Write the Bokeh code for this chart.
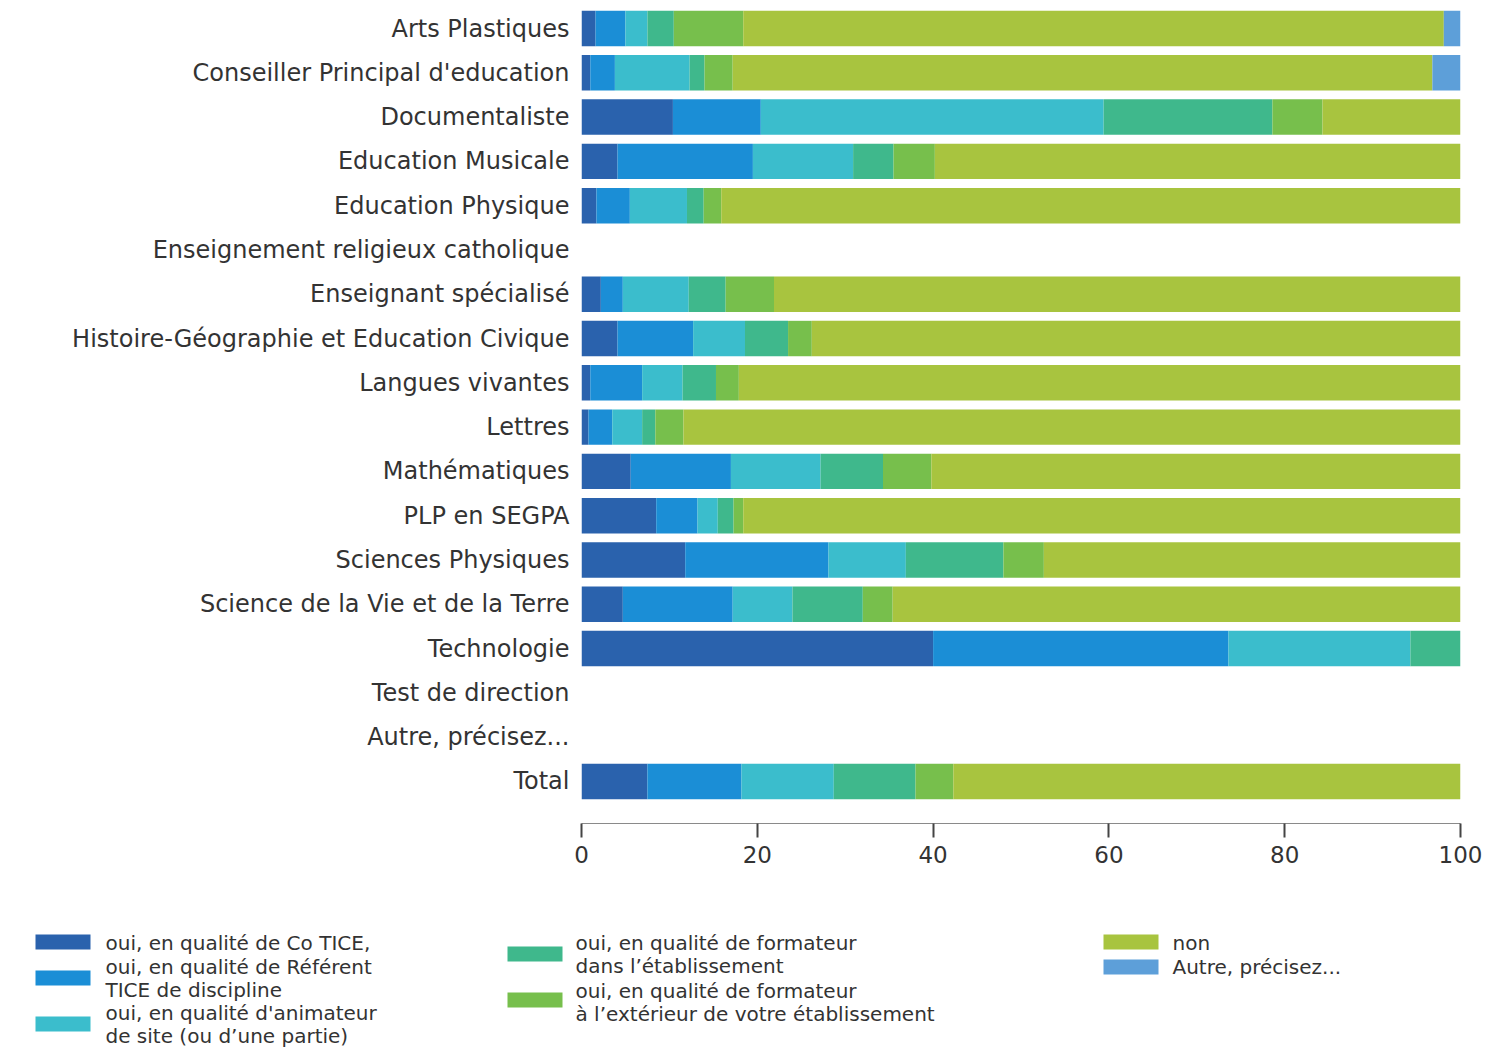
from bokeh.plotting import figure
from bokeh.models import Range1d, FixedTicker, ColumnDataSource
from bokeh.layouts import column
from bokeh.embed import file_html
from bokeh.resources import INLINE
from bokeh.core.properties import value

categories = ["Arts Plastiques", "Conseiller Principal d'education", "Documentaliste",
              "Education Musicale", "Education Physique", "Enseignement religieux catholique",
              "Enseignant spécialisé", "Histoire-Géographie et Education Civique",
              "Langues vivantes", "Lettres", "Mathématiques", "PLP en SEGPA",
              "Sciences Physiques", "Science de la Vie et de la Terre", "Technologie",
              "Test de direction", "Autre, précisez...", "Total"]

co_tice   = [1.6, 1.0, 10.4, 4.1, 1.7, 0, 2.2, 4.1, 1.0, 0.8, 5.6, 8.5, 11.8, 4.7, 40.0, 0, 0, 7.5]
referent  = [3.4, 2.8, 10.0, 15.4, 3.8, 0, 2.5, 8.6, 5.9, 2.7, 11.4, 4.7, 16.3, 12.5, 33.6, 0, 0, 10.7]
animateur = [2.5, 8.5, 39.0, 11.4, 6.5, 0, 7.5, 5.9, 4.6, 3.4, 10.2, 2.3, 8.8, 6.8, 20.7, 0, 0, 10.5]
form_dans = [3.0, 1.7, 19.2, 4.6, 1.9, 0, 4.2, 4.9, 3.8, 1.5, 7.1, 1.8, 11.1, 8.0, 5.7, 0, 0, 9.3]
form_ext  = [7.9, 3.2, 5.7, 4.7, 2.0, 0, 5.5, 2.7, 2.6, 3.2, 5.5, 1.1, 4.6, 3.4, 0, 0, 0, 4.3]
non       = [79.7, 79.6, 15.7, 59.8, 84.1, 0, 78.1, 73.8, 82.1, 88.4, 60.2, 81.6, 47.4, 64.6, 0, 0, 0, 57.7]
autre     = [1.9, 3.2, 0, 0, 0, 0, 0, 0, 0, 0, 0, 0, 0, 0, 0, 0, 0, 0]

x_ticks = [0, 20, 40, 60, 80, 100]

series_keys = ["co_tice", "referent", "animateur", "form_dans", "form_ext", "non", "autre"]
legend_labels = [
    ["oui, en qualité de Co TICE,"],
    ["oui, en qualité de Référent", "TICE de discipline"],
    ["oui, en qualité d'animateur", "de site (ou d’une partie)"],
    ["oui, en qualité de formateur", "dans l’établissement"],
    ["oui, en qualité de formateur", "à l’extérieur de votre établissement"],
    ["non"],
    ["Autre, précisez..."],
]
colors = ["#2a62ad", "#1b8ed6", "#3bbdcc", "#3fb88c", "#77bf4c", "#a8c43f", "#5d9fd9"]

FONT = "DejaVu Sans"
TXT = "#333333"

# geometry (pixels)
W = 1490
H1, H2 = 868, 182
FL, FR = 581, 1460          # frame left / right
FB = 823                    # frame bottom (axis line)
ROW0, ROWSTEP = 28, 44.29   # centre of first row, row pitch
y_end = -ROW0 / ROWSTEP
y_start = (FB - ROW0) / ROWSTEP

ys = list(range(len(categories)))
source = ColumnDataSource(dict(y=ys, co_tice=co_tice, referent=referent, animateur=animateur,
                               form_dans=form_dans, form_ext=form_ext, non=non, autre=autre))

p = figure(width=W, height=H1, output_backend="svg", toolbar_location=None,
           x_range=Range1d(0, 100), y_range=Range1d(y_start, y_end),
           min_border_left=FL, min_border_right=W - FR, min_border_top=0,
           min_border_bottom=H1 - FB)
p.hbar_stack(series_keys, y="y", height=0.8, color=colors, source=source, line_width=0)

p.outline_line_color = None
p.xgrid.visible = False
p.ygrid.visible = False

p.yaxis.ticker = FixedTicker(ticks=ys)
p.yaxis.major_label_overrides = {i: c for i, c in enumerate(categories)}
p.yaxis.axis_line_color = None
p.yaxis.major_tick_line_color = None
p.yaxis.minor_tick_line_color = None
p.yaxis.major_label_standoff = 6
p.yaxis.major_label_text_font = FONT
p.yaxis.major_label_text_font_size = "24px"
p.yaxis.major_label_text_color = TXT

p.xaxis.ticker = FixedTicker(ticks=x_ticks)
p.xaxis.axis_line_color = "#8a8a8a"
p.xaxis.major_tick_line_color = "#444444"
p.xaxis.major_tick_line_width = 2
p.xaxis.major_tick_out = 14
p.xaxis.major_tick_in = 0
p.xaxis.minor_tick_line_color = None
p.xaxis.major_label_standoff = 8
p.xaxis.major_label_text_font = FONT
p.xaxis.major_label_text_font_size = "23px"
p.xaxis.major_label_text_color = TXT

# legend panel (pixel coordinates of the page, y downward)
lg = figure(width=W, height=H2, output_backend="svg", toolbar_location=None,
            x_range=Range1d(0, W), y_range=Range1d(H1 + H2, H1),
            x_axis_location=None, y_axis_location=None,
            min_border_left=0, min_border_right=0, min_border_top=0, min_border_bottom=0)
try:
    lg.frame_align = False
except Exception:
    pass
lg.outline_line_color = None
lg.xgrid.visible = False
lg.ygrid.visible = False

LINE = 23
sw_left = [35, 35, 35, 507, 507, 1103, 1103]
sw_top = [934, 970, 1016, 946, 992, 934, 959]
tx_x = [105, 105, 105, 575, 575, 1172, 1172]
tx_y = [942, 966, 1012, 942, 990, 942, 966]

rl, rr, rt, rb, rc = [], [], [], [], []
tx, ty, tt = [], [], []
for i, labs in enumerate(legend_labels):
    rl.append(sw_left[i]); rr.append(sw_left[i] + 55)
    rt.append(sw_top[i]); rb.append(sw_top[i] + 15)
    rc.append(colors[i])
    for j, t in enumerate(labs):
        tx.append(tx_x[i]); ty.append(tx_y[i] + LINE * j); tt.append(t)

lg.quad(left=rl, right=rr, top=rt, bottom=rb, color=rc, line_width=0)
lg.text(x=tx, y=ty, text=tt, text_baseline="middle", text_align="left",
        text_font=value(FONT), text_font_size="20px", text_color=TXT)

layout = column(p, lg, spacing=0)
open("out.html", "w").write(file_html(layout, INLINE))
